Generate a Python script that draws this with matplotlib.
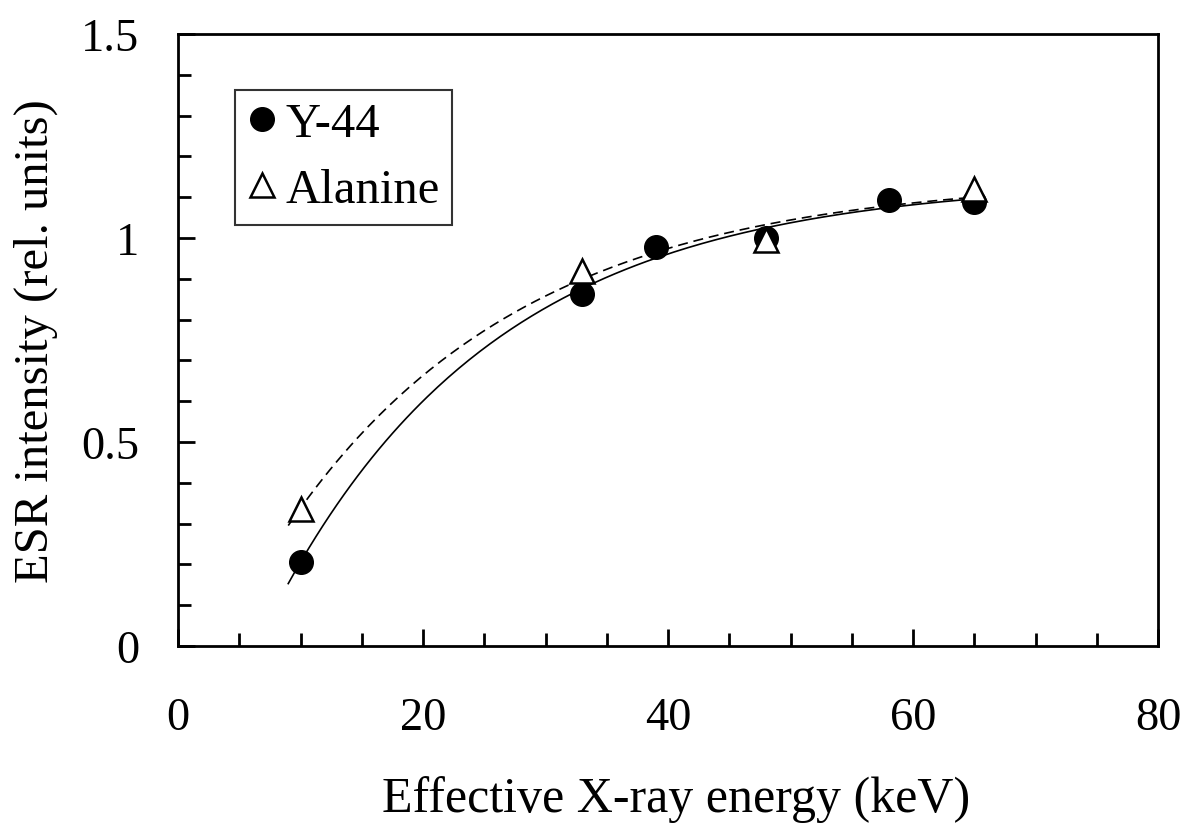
"""ESR intensity vs effective X-ray energy: Y-44 and alanine, with fitted trend curves."""
import numpy as np
import matplotlib
matplotlib.use("Agg")
import matplotlib.pyplot as plt
from matplotlib.ticker import MultipleLocator

plt.rcParams["font.family"] = ["Liberation Serif", "DejaVu Serif"]

# data
y44_energy = [10, 33, 39, 48, 58, 65]
y44_esr = [0.206, 0.863, 0.978, 1.0, 1.093, 1.088]
ala_energy = [10, 33, 48, 65]
ala_esr = [0.336, 0.919, 0.995, 1.12]

FIT_RANGE = (9.0, 65.5)


def trend(x, y):
    """Saturating fit y = A + B*exp(-k x); k by grid search, A,B by least squares."""
    x = np.asarray(x, float); y = np.asarray(y, float)
    best = None
    for k in np.linspace(0.005, 0.3, 600):
        M = np.column_stack([np.ones_like(x), np.exp(-k * x)])
        coef, *_ = np.linalg.lstsq(M, y, rcond=None)
        err = float(((M @ coef - y) ** 2).sum())
        if best is None or err < best[0]:
            best = (err, k, coef)
    _, k, (A, B) = best
    xx = np.linspace(*FIT_RANGE, 200)
    return xx, A + B * np.exp(-k * xx)


fig = plt.figure(figsize=(11.87, 8.28), dpi=100)
ax = fig.add_axes([178 / 1187, 1 - 647 / 828, 980 / 1187, 612 / 828])

xs, ys = trend(y44_energy, y44_esr)
ax.plot(xs, ys, "k-", lw=1.2)
xa, ya = trend(ala_energy, ala_esr)
ax.plot(xa, ya, "k--", lw=1.2, dashes=(6, 3.5))

ax.plot(y44_energy, y44_esr, "o", color="k", ms=17, label="Y-44")
ax.plot(ala_energy, ala_esr, "^", mfc="white", mec="k", mew=1.8, ms=17, label="Alanine")

ax.set_xlim(0, 80); ax.set_ylim(0, 1.5)
ax.xaxis.set_major_locator(MultipleLocator(20)); ax.xaxis.set_minor_locator(MultipleLocator(5))
ax.yaxis.set_major_locator(MultipleLocator(0.5)); ax.yaxis.set_minor_locator(MultipleLocator(0.1))
ax.set_yticks([0, 0.5, 1, 1.5]); ax.set_yticklabels(["0", "0.5", "1", "1.5"])
ax.tick_params(which="both", direction="in", top=False, right=False, width=2,
               labelsize=33.5)
ax.tick_params(which="major", length=12)
ax.tick_params(which="minor", length=9.5)
ax.tick_params(axis="x", which="major", pad=36)
ax.tick_params(axis="y", which="major", pad=28)
for s in ax.spines.values():
    s.set_linewidth(2)

ax.set_xlabel("Effective X-ray energy (keV)", fontsize=36)
ax.set_ylabel("ESR intensity (rel. units)", fontsize=35)
ax.xaxis.set_label_coords(0.508, -0.211)
ax.yaxis.set_label_coords(-0.122, 0.5)

leg = ax.legend(loc="upper left", bbox_to_anchor=(0.058, 0.908), fontsize=35,
                frameon=True, fancybox=False, edgecolor="k", handlelength=0.6,
                handletextpad=0.2, borderpad=0.25, labelspacing=0.45, borderaxespad=0)
leg.get_frame().set_linewidth(1.5)

fig.savefig("out.png", dpi=100)
